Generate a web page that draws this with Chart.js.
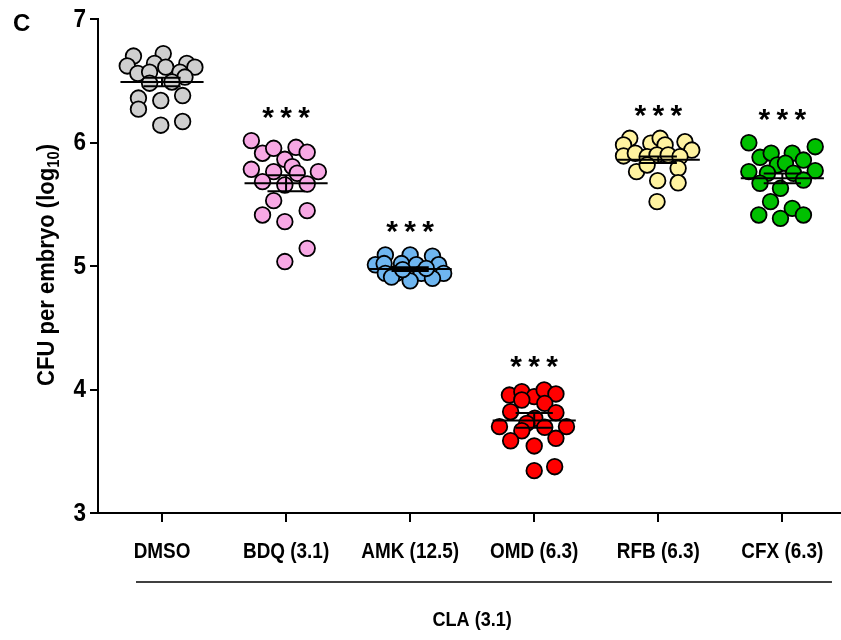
<!DOCTYPE html>
<html>
<head>
<meta charset="utf-8">
<script src="https://cdn.jsdelivr.net/npm/chart.js@4/dist/chart.umd.min.js"></script>
<style>
  html, body { margin: 0; padding: 0; background: #fff; overflow: hidden; }
  #wrap { width: 850px; height: 640px; position: relative; }
  canvas { display: block; }
</style>
</head>
<body>
<div id="wrap"><canvas id="myChart"></canvas></div>
<script>
    // groups on the x axis
    const categories = ['DMSO', 'BDQ (3.1)', 'AMK (12.5)', 'OMD (6.3)', 'RFB (6.3)', 'CFX (6.3)'];
    const groupLabel = 'CLA (3.1)';
    const fillColors = ['#cfcfcf', '#f7a8e4', '#6fb6f0', '#ff0000', '#fff3a0', '#00c000'];
    const sigLabels = ['', '***', '***', '***', '***', '***'];
    const yTicks = [3, 4, 5, 6, 7];

    // log10 CFU per embryo, and horizontal scatter offset of each dot
    const dmsoValues = [6.70, 6.72, 6.62, 6.56, 6.64, 6.57, 6.61, 6.64, 6.61, 6.57, 6.53, 6.48, 6.49, 6.36, 6.34, 6.38, 6.27, 6.14, 6.17];
    const dmsoJitter = [-0.23, 0.01, -0.28, -0.195, -0.06, -0.10, 0.03, 0.20, 0.265, 0.145, 0.185, -0.10, 0.08, -0.19, -0.01, 0.166, -0.19, -0.01, 0.166];

    const bdqValues = [6.015, 5.913, 5.953, 5.961, 5.921, 5.864, 5.783, 5.764, 5.804, 5.751, 5.764, 5.683, 5.656, 5.664, 5.529, 5.413, 5.448, 5.359, 5.143, 5.036];
    const bdqJitter = [-0.28, -0.19, -0.10, 0.08, 0.17, -0.01, -0.28, -0.10, 0.05, 0.09, 0.26, -0.19, -0.01, 0.17, -0.10, -0.19, 0.17, -0.01, 0.17, -0.01];

    const amkValues = [5.09, 5.09, 5.08, 5.01, 5.02, 5.02, 5.01, 5.01, 4.94, 4.94, 4.94, 4.94, 4.88, 4.91, 4.90, 4.98, 4.97];
    const amkJitter = [-0.20, 0.00, 0.18, -0.28, -0.21, -0.07, 0.05, 0.23, -0.20, -0.11, 0.09, 0.27, 0.00, -0.15, 0.18, 0.13, -0.06];

    const omdValues = [3.955, 3.982, 3.942, 3.996, 3.964, 3.915, 3.888, 3.82, 3.812, 3.767, 3.726, 3.699, 3.694, 3.699, 3.666, 3.585, 3.605, 3.543, 3.343, 3.375];
    const omdJitter = [-0.20, -0.10, 0.00, 0.08, 0.175, -0.10, 0.085, -0.19, 0.175, 0.005, -0.06, -0.28, 0.085, 0.26, -0.10, -0.19, 0.175, 0.00, 0.00, 0.165];

    const rfbValues = [6.034, 5.98, 5.994, 6.034, 5.98, 6.006, 5.939, 5.891, 5.913, 5.885, 5.899, 5.899, 5.885, 5.764, 5.818, 5.791, 5.691, 5.674, 5.521];
    const rfbJitter = [-0.23, -0.28, -0.06, 0.015, 0.055, 0.215, 0.27, -0.28, -0.185, -0.09, -0.01, 0.08, 0.175, -0.175, -0.09, 0.16, -0.005, 0.16, -0.01];

    const cfxValues = [5.998, 5.966, 5.88, 5.913, 5.913, 5.858, 5.818, 5.832, 5.764, 5.751, 5.751, 5.772, 5.67, 5.629, 5.696, 5.521, 5.467, 5.413, 5.386, 5.413];
    const cfxJitter = [-0.27, 0.265, -0.18, -0.09, 0.08, 0.17, -0.04, 0.025, -0.27, -0.12, 0.09, 0.265, -0.18, -0.015, 0.17, -0.095, 0.08, -0.19, -0.015, 0.17];

    // mean and SEM as drawn
    const means = [6.49, 5.67, 4.975, 3.75, 5.86, 5.71];
    const sems = [0.035, 0.065, 0.015, 0.06, 0.027, 0.04];

    const allValues = [dmsoValues, bdqValues, amkValues, omdValues, rfbValues, cfxValues];
    const allJitter = [dmsoJitter, bdqJitter, amkJitter, omdJitter, rfbJitter, cfxJitter];

    const FONT = '"Liberation Sans", Arial, sans-serif';
    const meanHalf = 0.335;
    const semHalf = 0.15;

    var datasets = [];

    // mean + SEM lines first so they sit on top of the dots
    means.forEach(function (m, i) {
        var s = sems[i];
        datasets.push({
            type: 'scatter',
            data: [
                { x: i - meanHalf, y: m }, { x: i + meanHalf, y: m }, { x: i, y: null },
                { x: i - semHalf, y: m + s }, { x: i + semHalf, y: m + s }, { x: i, y: null },
                { x: i, y: m + s }, { x: i, y: m - s }, { x: i, y: null },
                { x: i - semHalf, y: m - s }, { x: i + semHalf, y: m - s }
            ],
            showLine: true,
            spanGaps: false,
            borderColor: '#000',
            borderWidth: 2,
            pointRadius: 0,
            order: 0
        });
    });

    allValues.forEach(function (vals, i) {
        datasets.push({
            type: 'scatter',
            label: categories[i],
            data: vals.map((v, k) => ({ x: i + allJitter[i][k], y: v })),
            backgroundColor: fillColors[i],
            borderColor: '#000',
            borderWidth: 1.8,
            pointRadius: 7.8,
            pointHoverRadius: 7.8,
            order: 1
        });
    });

    // narrow bold text, like the condensed font of the figure
    function narrowText(c, text, x, y, size, align, sx) {
        c.save();
        c.translate(x, y);
        c.scale(sx, 1);
        c.font = 'bold ' + size + 'px ' + FONT;
        c.textAlign = align;
        c.textBaseline = 'middle';
        c.fillText(text, 0, 0);
        c.restore();
    }

    const extras = {
        id: 'extras',
        afterDraw(chart) {
            const c = chart.ctx;
            const xs = chart.scales.x;
            const ys = chart.scales.y;
            c.save();
            c.fillStyle = '#000';
            c.strokeStyle = '#000';

            // panel letter
            narrowText(c, 'C', 13, 24, 24, 'left', 1);

            // tick labels
            yTicks.forEach(function (v) {
                narrowText(c, String(v), 86, ys.getPixelForValue(v) + 1, 25, 'right', 0.9);
            });
            categories.forEach(function (lab, i) {
                narrowText(c, lab, xs.getPixelForValue(i), 552, 22, 'center', 0.86);
            });

            // y title with subscript
            c.save();
            c.translate(46, 265);
            c.rotate(-Math.PI / 2);
            c.scale(0.92, 1);
            const p1 = 'CFU per embryo (log';
            const p2 = '10';
            const p3 = ')';
            c.font = 'bold 24px ' + FONT;
            const w1 = c.measureText(p1).width;
            const w3 = c.measureText(p3).width;
            c.font = 'bold 16px ' + FONT;
            const w2 = c.measureText(p2).width;
            let x0 = -(w1 + w2 + w3) / 2;
            c.textAlign = 'left';
            c.textBaseline = 'alphabetic';
            c.font = 'bold 24px ' + FONT;
            c.fillText(p1, x0, 8);
            c.font = 'bold 16px ' + FONT;
            c.fillText(p2, x0 + w1, 13);
            c.font = 'bold 24px ' + FONT;
            c.fillText(p3, x0 + w1 + w2, 8);
            c.restore();

            // significance stars above each group
            c.font = 'bold 30px ' + FONT;
            c.textAlign = 'center';
            c.textBaseline = 'middle';
            sigLabels.forEach(function (lab, i) {
                if (!lab) return;
                const top = Math.max.apply(null, allValues[i]);
                const px = xs.getPixelForValue(i);
                const py = ys.getPixelForValue(top) - 22;
                for (let k = 0; k < lab.length; k++) {
                    c.fillText(lab[k], px + (k - 1) * 18, py);
                }
            });

            // bracket under the labels
            c.lineWidth = 1.5;
            c.beginPath();
            c.moveTo(xs.getPixelForValue(-0.21), 582);
            c.lineTo(xs.getPixelForValue(5.4), 582);
            c.stroke();
            narrowText(c, groupLabel, xs.getPixelForValue((categories.length - 1) / 2), 620, 21, 'center', 0.86);
            c.restore();
        }
    };

    var ctx = document.getElementById('myChart').getContext('2d');
    var scatterChart = new Chart(ctx, {
        type: 'scatter',
        data: { datasets: datasets },
        options: {
            responsive: true,
            maintainAspectRatio: false,
            animation: false,
            layout: { padding: { top: 19, right: 1, left: 0, bottom: 0 } },
            plugins: {
                legend: { display: false },
                tooltip: { enabled: false }
            },
            scales: {
                x: {
                    type: 'linear',
                    min: -0.516,
                    max: 5.468,
                    afterFit: function (s) { s.height = 127; },
                    afterBuildTicks: function (s) {
                        s.ticks = categories.map((c, i) => ({ value: i }));
                    },
                    ticks: { display: false },
                    grid: {
                        drawOnChartArea: false,
                        drawTicks: true,
                        tickLength: 9,
                        color: '#000',
                        lineWidth: 2
                    },
                    border: { display: true, color: '#000', width: 2 }
                },
                y: {
                    min: 3,
                    max: 7,
                    afterFit: function (s) { s.width = 98; },
                    afterBuildTicks: function (s) {
                        s.ticks = yTicks.map(v => ({ value: v }));
                    },
                    ticks: { display: false },
                    grid: {
                        drawOnChartArea: false,
                        drawTicks: true,
                        tickLength: 8,
                        color: '#000',
                        lineWidth: 2
                    },
                    border: { display: true, color: '#000', width: 2 }
                }
            }
        },
        plugins: [extras]
    });
</script>
</body>
</html>
